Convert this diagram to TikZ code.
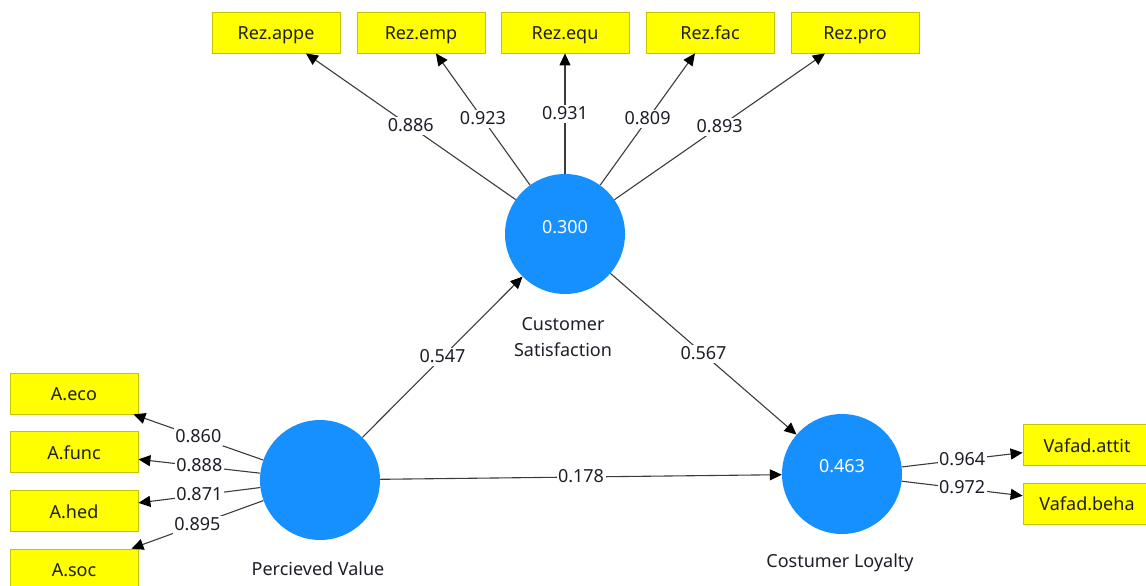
\documentclass[tikz,border=0pt]{standalone}
\usepackage{fontspec}
\setmainfont{Noto Sans}
\usetikzlibrary{arrows.meta}
\definecolor{lvblue}{RGB}{22,144,255}
\definecolor{indfill}{RGB}{255,255,0}
\definecolor{indedge}{RGB}{196,196,0}
\definecolor{edgegray}{RGB}{60,60,60}
\definecolor{txt}{RGB}{30,30,40}
\begin{document}
\begin{tikzpicture}[x=1pt,y=-1pt,
  font=\fontsize{18}{26}\selectfont,
  latent/.style={circle,fill=lvblue,minimum size=120pt,inner sep=0pt},
  rsq/.style={text=white,inner sep=0pt},
  lvname/.style={text=txt,align=center,inner sep=0pt},
  indicator/.style={rectangle,fill=indfill,draw=indedge,line width=0.8pt,
    minimum width=128pt,minimum height=41pt,inner sep=0pt,text=txt,
    text height=16pt,text depth=2pt},
  link/.style={draw=edgegray,line width=1.1pt,
    -{Triangle[length=12pt,width=11pt,color=black]}},
  coef/.style={fill=white,inner sep=1.5pt,text=txt,
    text height=13pt,text depth=2pt}]
\useasboundingbox (0,0) rectangle (1146,586);
\clip (0,0) rectangle (1146,586);

% latent variables
\node[latent] (cs) at (565,234) {};
\node[latent] (pv) at (320,480) {};
\node[latent] (cl) at (842,474) {};
\node[rsq] (cs-r2) at (565,227) {0.300};
\node[rsq] (cl-r2) at (842,466) {0.463};
\node[lvname] (cs-name) at (563,337) {Customer\\Satisfaction};
\node[lvname] (pv-name) at (318,569) {Percieved Value};
\node[lvname] (cl-name) at (840,563) {Costumer Loyalty};

% indicators of Customer Satisfaction
\node[indicator] (rez-appe) at (276,32.5) {Rez.appe};
\node[indicator] (rez-emp)  at (421,32.5) {Rez.emp};
\node[indicator] (rez-equ)  at (565,32.5) {Rez.equ};
\node[indicator] (rez-fac)  at (710,32.5) {Rez.fac};
\node[indicator] (rez-pro)  at (855,32.5) {Rez.pro};

% indicators of Percieved Value
\node[indicator] (a-eco)  at (74,393.5) {A.eco};
\node[indicator] (a-func) at (74,452)   {A.func};
\node[indicator] (a-hed)  at (74,511)   {A.hed};
\node[indicator] (a-soc)  at (74,569.5) {A.soc};

% indicators of Costumer Loyalty
\node[indicator] (v-attit) at (1087,445)   {Vafad.attit};
\node[indicator] (v-beha)  at (1087,503.5) {Vafad.beha};

% outer loadings
\draw[link] (cs) -- node[coef] {0.886} (rez-appe);
\draw[link] (cs) -- node[coef] {0.923} (rez-emp);
\draw[link] (cs) -- node[coef] {0.931} (rez-equ);
\draw[link] (cs) -- node[coef] {0.809} (rez-fac);
\draw[link] (cs) -- node[coef] {0.893} (rez-pro);

\draw[link] (pv) -- node[coef] {0.860} (a-eco);
\draw[link] (pv) -- node[coef] {0.888} (a-func);
\draw[link] (pv) -- node[coef] {0.871} (a-hed);
\draw[link] (pv) -- node[coef] {0.895} (a-soc);

\draw[link] (cl) -- node[coef] {0.964} (v-attit);
\draw[link] (cl) -- node[coef] {0.972} (v-beha);

% path coefficients
\draw[link] (pv) -- node[coef] {0.547} (cs);
\draw[link] (cs) -- node[coef] {0.567} (cl);
\draw[link] (pv) -- node[coef] {0.178} (cl);
\end{tikzpicture}
\end{document}
